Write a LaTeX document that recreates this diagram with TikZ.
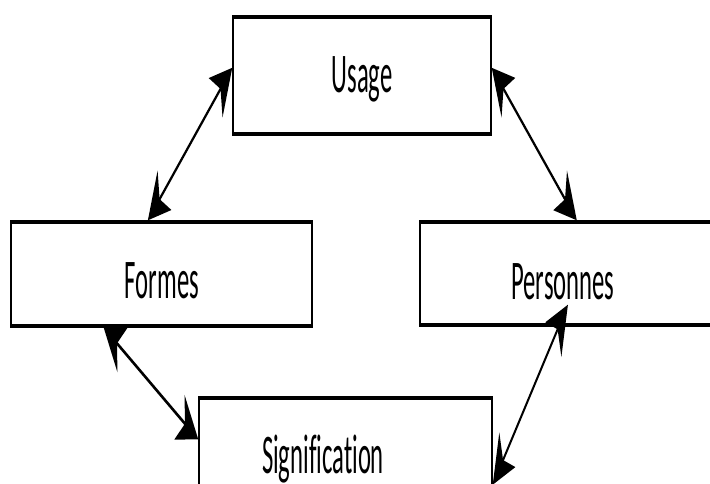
\documentclass[tikz,border=0pt]{standalone}
\usepackage{fontspec}
\setmainfont{Carlito}[Ligatures=NoCommon]
\usetikzlibrary{arrows.meta,calc}
\tikzset{
  boxnode/.style={draw=black, line width=3.4pt, fill=white, inner sep=0pt},
  labeltext/.style={inner sep=0pt, anchor=base, font=\fontsize{56}{60}\selectfont},
  link/.style={line width=3.6pt, {Stealth[length=48pt,width=50pt,inset=14pt]}-{Stealth[length=48pt,width=50pt,inset=14pt]}}
}
\begin{document}
\begin{tikzpicture}
\useasboundingbox[fill=white] (0pt,0pt) rectangle (710pt,-484pt);
\begin{scope}[transform canvas={xscale=0.44}, x={(2.2727pt,0pt)}, y={(0pt,-1pt)}]
  \node[boxnode, minimum width=586.4pt, minimum height=117pt] (usage) at (362,75.5) {};
  \node[boxnode, minimum width=684.1pt, minimum height=104pt] (formes) at (161.5,274) {};
  \node[boxnode, minimum width=727.3pt, minimum height=103pt] (personnes) at (580,273.5) {};
  \node[boxnode, minimum width=665.9pt, minimum height=122pt] (signif) at (345.5,459) {};
  \node[labeltext] (tusage) at (362,93) {Usage};
  \node[labeltext] (tformes) at (162,298) {Formes};
  \node[labeltext] (tpersonnes) at (563,299) {Personnes};
  \node[labeltext] (tsignif) at (323,473) {Signification};
  \coordinate (pbot) at ($(personnes.south west)!0.4625!(personnes.south east)+(0,-22)$);
  \draw[link] ($(usage.north west)!0.436!(usage.south west)$) -- ($(formes.north west)!0.455!(formes.north east)$);
  \draw[link] ($(usage.north east)!0.436!(usage.south east)$) -- ($(personnes.north west)!0.49!(personnes.north east)$);
  \draw[link] ($(formes.south west)!0.309!(formes.south east)$) -- ($(signif.north west)!0.344!(signif.south west)$);
  \draw[link] (pbot) -- ($(signif.north east)!0.705!(signif.south east)$);
\end{scope}
\end{tikzpicture}
\end{document}
